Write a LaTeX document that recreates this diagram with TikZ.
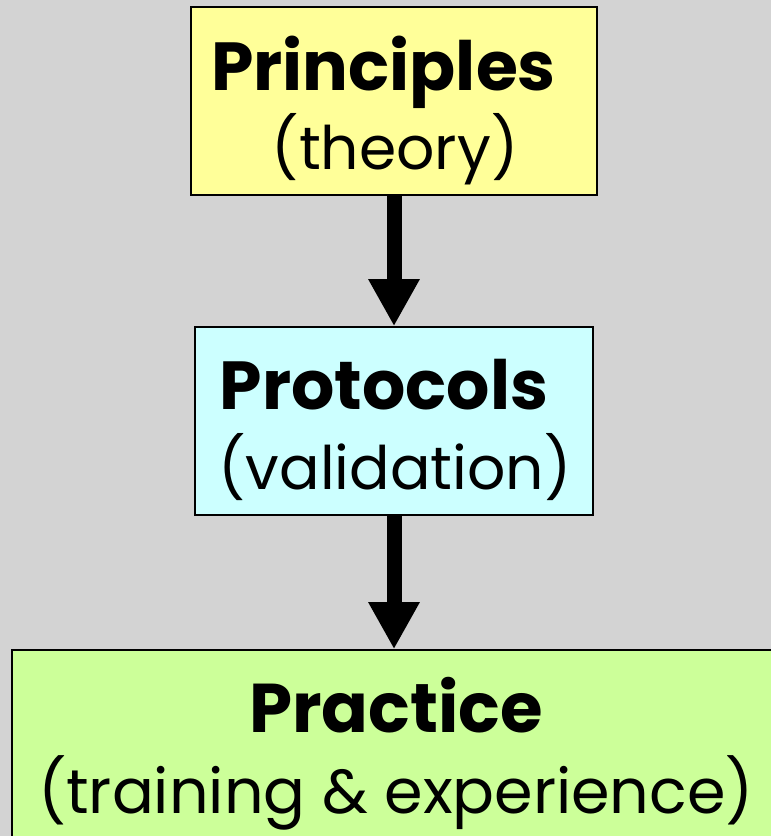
\documentclass[tikz,border=0pt]{standalone}
\usepackage{fontspec}
\setmainfont{Poppins}
\usetikzlibrary{arrows.meta}
\definecolor{bg}{HTML}{D3D3D3}
\definecolor{yel}{HTML}{FFFF99}
\definecolor{cya}{HTML}{CCFFFF}
\definecolor{grn}{HTML}{CCFF99}
\tikzset{
  box/.style={draw=black, line width=1.5pt, rectangle, inner sep=0pt},
  title/.style={anchor=base, inner sep=0pt, font=\fontsize{68}{68}\selectfont\bfseries},
  sub/.style={anchor=base, inner sep=0pt, font=\fontsize{60}{60}\selectfont},
  bigarrow/.style={line width=15pt, -{Triangle[length=47pt,width=48pt]}, shorten >=0pt}
}
\begin{document}
\begin{tikzpicture}[x=1pt,y=1pt]
\clip (0,0) rectangle (771,836);
\fill[bg] (0,0) rectangle (771,836);
\node[box, fill=yel, minimum width=406pt, minimum height=188pt] (b1) at (394,735) {};
\node[box, fill=cya, minimum width=398pt, minimum height=188pt] (b2) at (394,415) {};
\node[box, fill=grn, minimum width=790pt, minimum height=200pt] (b3) at (407,86) {};
\node[title] (t1) at (383.5,745) {Principles};
\node[sub] (s1) at (395,666) {(theory)};
\node[title] (t2) at (384,426) {Protocols};
\node[sub] (s2) at (395,346) {(validation)};
\node[title, font=\fontsize{69}{69}\selectfont\bfseries] (t3) at (396,103) {Practice};
\node[sub, font=\fontsize{62}{62}\selectfont] (s3) at (396,23) {(training \& experience)};
\draw[bigarrow] (b1.south) -- (b2.north);
\draw[bigarrow] (b2.south) -- (b3.north -| b2.south);
\end{tikzpicture}
\end{document}
